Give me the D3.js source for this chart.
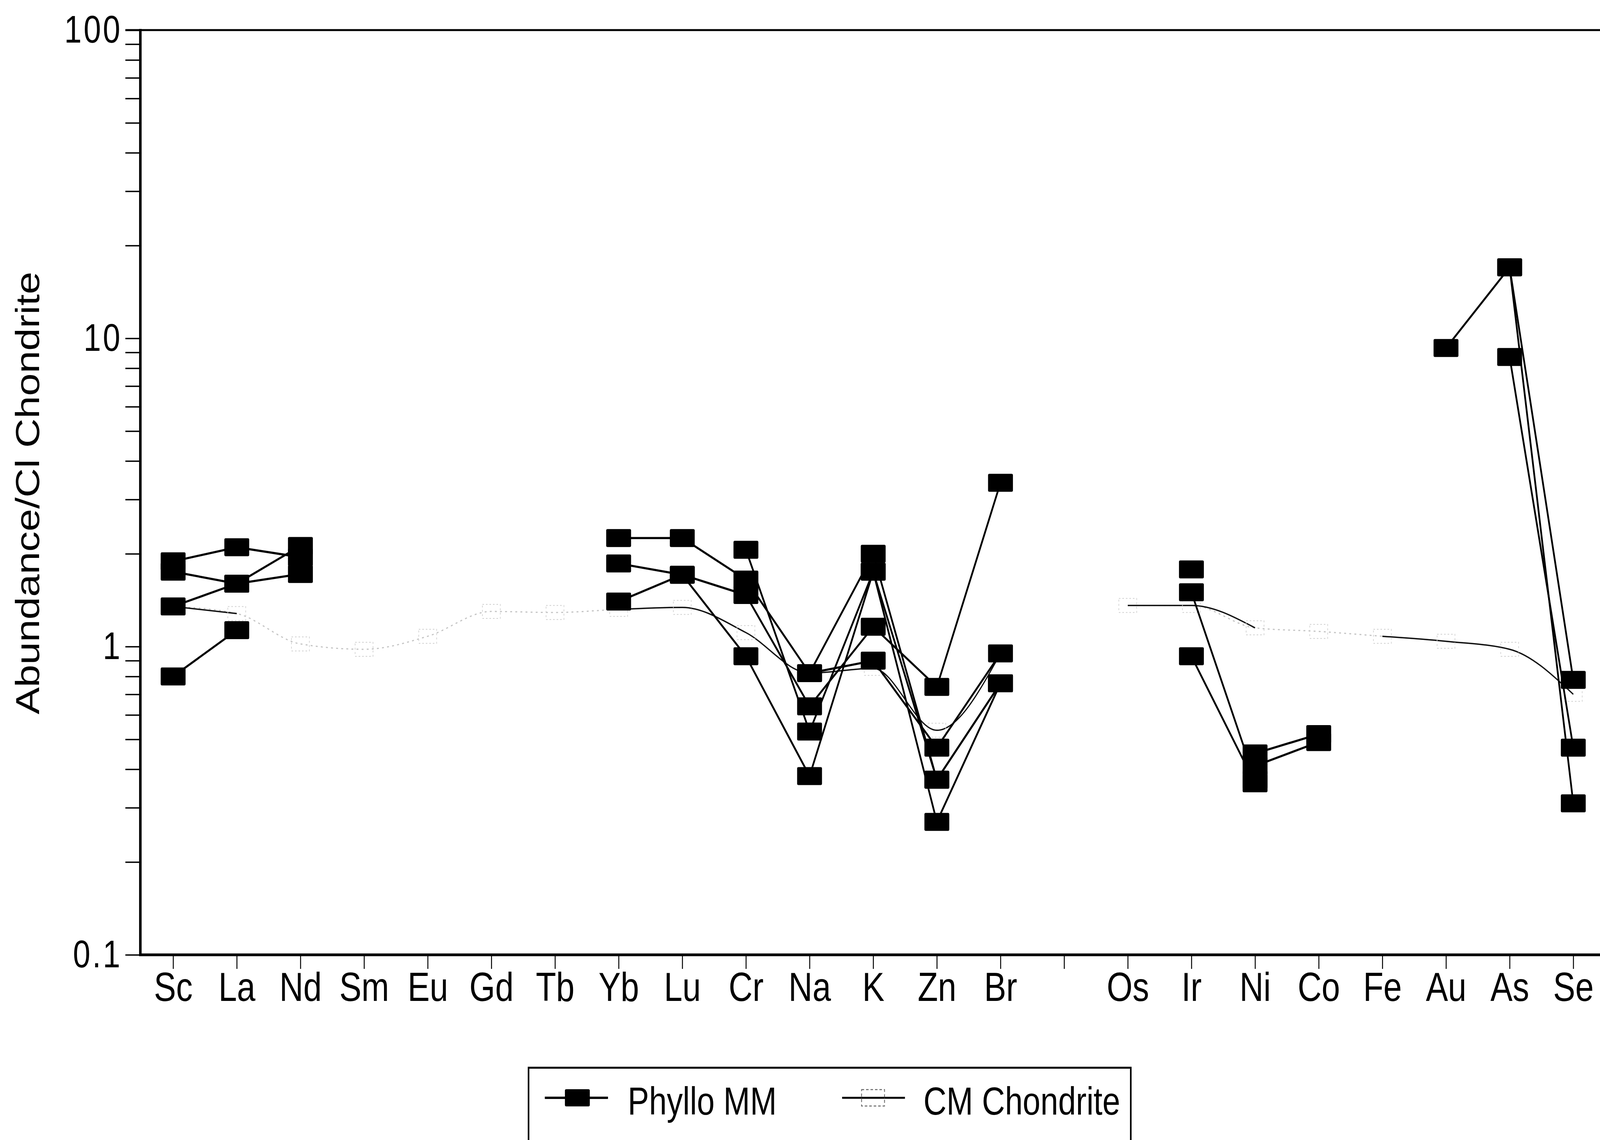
<!DOCTYPE html>
<html>
<head>
<meta charset="utf-8">
<script src="https://cdn.jsdelivr.net/npm/d3@7"></script>
<style>
  html, body { margin: 0; padding: 0; background: #fff; overflow: hidden; width: 100%; height: 100%; }
  svg { display: block; width: 100vw; height: 100vh; }
  text { font-family: "Liberation Sans", Arial, Helvetica, sans-serif; fill: #000; }
</style>
</head>
<body>
<script>
// ---------------- data ----------------
const N = null;
const elements = ["Sc","La","Nd","Sm","Eu","Gd","Tb","Yb","Lu","Cr","Na","K","Zn","Br","","Os","Ir","Ni","Co","Fe","Au","As","Se"];

// Phyllosilicate micrometeorites (individual particles)
const phylloA = [1.89, 2.10, 1.95, N, N, N, N, 2.25, 2.25, 1.65, 0.82, 2.00, 0.37, 0.76, N, N, 1.78, N,    N,    N, 9.3, 17.0, 0.78];
const phylloB = [1.75, 1.60, 2.12, N, N, N, N, 1.86, 1.71, 1.47, 0.64, 1.16, 0.74, 3.40, N, N, 1.50, 0.37, N,    N, N,   8.7,  0.47];
const phylloC = [1.35, 1.60, 1.72, N, N, N, N, N,    N,    2.06, 0.53, 1.75, 0.37, 0.76, N, N, 0.93, 0.36, N,    N, N,   N,    N   ];
const phylloD = [0.80, 1.13, N,    N, N, N, N, 1.40, 1.71, 0.93, 0.38, 1.75, 0.27, 0.76, N, N, N,    0.45, 0.52, N, N,   N,    N   ];
const phylloE = [N,    N,    N,    N, N, N, N, N,    N,    N,    0.82, 0.90, 0.47, 0.95, N, N, N,    0.41, 0.49, N, N,   17.0, 0.31];

// CM chondrite reference pattern
const cmChondrite = [1.35, 1.28, 1.02, 0.98, 1.08, 1.30, 1.29, 1.32, 1.34, 1.11, 0.82, 0.85, 0.535, 0.95, N, 1.36, 1.36, 1.15, 1.12, 1.08, 1.04, 0.98, 0.70];

const yTickMajors = [0.1, 1, 10, 100];
const yTickLabels = ["0.1", "1", "10", "100"];

const seriesNames = ["Phyllo MM", "CM Chondrite"];
// elements where the CM trace is faint in the original figure
const cmFaint = new Set(["Nd","Sm","Eu","Gd","Tb","Co"]);

// ---------------- layout ----------------
const W = 5016, H = 2918;
const plot = { left: 440, top: 77, bottom: 2444 };

const svg = d3.select("body").append("svg")
  .attr("viewBox", `0 0 ${W} ${H}`)
  .attr("preserveAspectRatio", "none");

svg.append("rect").attr("width", W).attr("height", H).attr("fill", "#fff");

const x = d3.scaleLinear().domain([-0.5, elements.length - 0.5]).range([443, 5032]);
const y = d3.scaleLog().domain([0.1, 100]).range([plot.bottom, plot.top]);

// ---------------- axes ----------------
const yTicks = [];
for (let e = -1; e <= 1; e++) for (let k = 1; k <= 9; k++) yTicks.push(k * Math.pow(10, e));
yTicks.push(100);
const isMajor = v => Math.abs(Math.log10(v) - Math.round(Math.log10(v))) < 1e-9;
const majorLabel = v => {
  const i = yTickMajors.findIndex(m => Math.abs(Math.log10(m) - Math.log10(v)) < 1e-9);
  return i >= 0 ? yTickLabels[i] : "";
};

const yAxis = svg.append("g")
  .attr("transform", `translate(${plot.left},0)`)
  .call(d3.axisLeft(y).tickValues(yTicks).tickSize(47).tickPadding(10)
    .tickFormat(v => isMajor(v) ? majorLabel(v) : ""));
yAxis.select(".domain").remove();
yAxis.selectAll(".tick line").attr("stroke", "#000").attr("stroke-width", 3.5);
yAxis.selectAll(".tick text")
  .style("font-size", "98px").attr("letter-spacing", "6px").attr("fill", "#000");

const xAxis = svg.append("g")
  .attr("transform", `translate(0,${plot.bottom})`)
  .call(d3.axisBottom(x).tickValues(d3.range(elements.length)).tickSize(36).tickPadding(8)
    .tickFormat(i => elements[i]));
xAxis.select(".domain").remove();
xAxis.selectAll(".tick line").attr("stroke", "#000").attr("stroke-width", 3);
xAxis.selectAll(".tick text").style("font-size", "104px").attr("fill", "#000");

// frame lines
svg.append("line").attr("x1", plot.left).attr("x2", plot.left)
  .attr("y1", plot.top - 3).attr("y2", plot.bottom + 3)
  .attr("stroke", "#000").attr("stroke-width", 8);
svg.append("line").attr("x1", plot.left - 4).attr("x2", W)
  .attr("y1", plot.bottom).attr("y2", plot.bottom)
  .attr("stroke", "#000").attr("stroke-width", 7);
svg.append("line").attr("x1", plot.left - 47).attr("x2", W)
  .attr("y1", plot.top).attr("y2", plot.top)
  .attr("stroke", "#000").attr("stroke-width", 5);

// axis title
svg.append("text")
  .attr("transform", `translate(122,1262) rotate(-90)`)
  .attr("text-anchor", "middle")
  .style("font-size", "104px")
  .text("Abundance/Cl Chondrite");

// ---------------- series ----------------
const pts = arr => arr.map((v, i) => ({ i, v, el: elements[i] }));

// CM chondrite: faint trace everywhere, dark where visible
const cmPts = pts(cmChondrite);
const cmLineFaint = d3.line().defined(d => d.v != null)
  .x(d => x(d.i)).y(d => y(d.v)).curve(d3.curveMonotoneX);
svg.append("path").attr("d", cmLineFaint(cmPts))
  .attr("fill", "none").attr("stroke", "#c4c4c4").attr("stroke-width", 3)
  .attr("stroke-dasharray", "6 10");

const cmDark = d3.line()
  .defined(d => d.v != null && !cmFaint.has(d.el))
  .x(d => x(d.i)).y(d => y(d.v)).curve(d3.curveMonotoneX);
svg.append("path").attr("d", cmDark(cmPts))
  .attr("fill", "none").attr("stroke", "#111").attr("stroke-width", 3.5)
  .attr("stroke-linejoin", "round");

svg.append("g").selectAll("rect")
  .data(cmPts.filter(d => d.v != null))
  .join("rect")
  .attr("x", d => x(d.i) - 28).attr("y", d => y(d.v) - 18)
  .attr("width", 56).attr("height", 36)
  .attr("fill", "none").attr("stroke", "#cfcfcf").attr("stroke-width", 2)
  .attr("stroke-dasharray", "5 6");

// Phyllo MM particles
const phyllo = [phylloA, phylloB, phylloC, phylloD, phylloE];
const mmLine = d3.line().defined(d => d.v != null)
  .x(d => x(d.i)).y(d => y(d.v));

const gMM = svg.append("g");
phyllo.forEach(arr => {
  gMM.append("path").attr("d", mmLine(pts(arr)))
    .attr("fill", "none").attr("stroke", "#000").attr("stroke-width", 5.5)
    .attr("stroke-linejoin", "round");
});
const mW = 78, mH = 46;
phyllo.forEach(arr => {
  gMM.append("g").selectAll("rect")
    .data(pts(arr).filter(d => d.v != null))
    .join("rect")
    .attr("x", d => x(d.i) - mW / 2).attr("y", d => y(d.v) - mH / 2)
    .attr("width", mW).attr("height", mH).attr("rx", 4)
    .attr("fill", "#000");
});

// ---------------- legend ----------------
const lg = svg.append("g");
lg.append("path")
  .attr("d", `M1657,${H + 20} V2733 H3545 V${H + 20}`)
  .attr("fill", "none").attr("stroke", "#000").attr("stroke-width", 5);

lg.append("line").attr("x1", 1708).attr("x2", 1906).attr("y1", 2810).attr("y2", 2810)
  .attr("stroke", "#000").attr("stroke-width", 6);
lg.append("rect").attr("x", 1810 - 39).attr("y", 2810 - 22).attr("width", 78).attr("height", 44)
  .attr("rx", 4).attr("fill", "#000");
lg.append("text").attr("x", 1968).attr("y", 2853).style("font-size", "100px").text(seriesNames[0]);

lg.append("line").attr("x1", 2640).attr("x2", 2837).attr("y1", 2810).attr("y2", 2810)
  .attr("stroke", "#000").attr("stroke-width", 5);
lg.append("rect").attr("x", 2737 - 36).attr("y", 2810 - 21).attr("width", 72).attr("height", 42)
  .attr("fill", "#fff").attr("stroke", "#666").attr("stroke-width", 2.5)
  .attr("stroke-dasharray", "8 6");
lg.append("line").attr("x1", 2701).attr("x2", 2773).attr("y1", 2810).attr("y2", 2810)
  .attr("stroke", "#000").attr("stroke-width", 5);
lg.append("text").attr("x", 2895).attr("y", 2853).style("font-size", "100px").text(seriesNames[1]);
</script>
</body>
</html>
